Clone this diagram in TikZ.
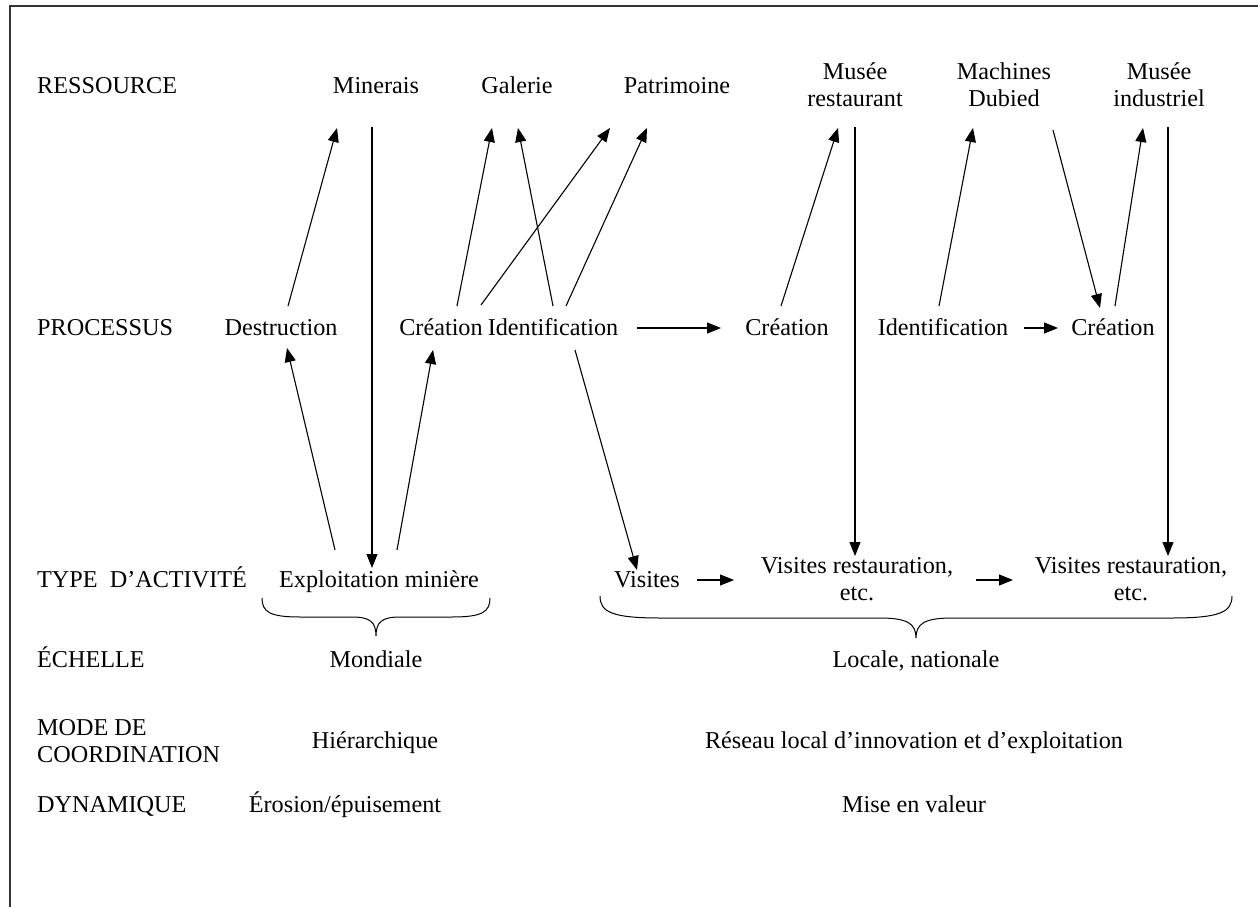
\documentclass[tikz,border=0pt]{standalone}
\usepackage{fontspec}
\setmainfont{Liberation Serif}
\usetikzlibrary{arrows.meta}
\newcommand\rowfont{\fontsize{24.2}{27}\selectfont}
\newcommand\twolines[2]{\begin{tabular}[t]{@{}c@{}}#1\\#2\end{tabular}}
\begin{document}
\begin{tikzpicture}[x=1pt,y=-1pt,
  txt/.style={font=\rowfont, inner sep=0pt, anchor=base},
  lbl/.style={txt, anchor=base west},
  link/.style={draw, line width=1.1pt, -{Triangle[length=14pt,width=11pt]}},
  brace/.style={draw, line width=1pt},
  frame/.style={draw, line width=1.5pt, black!80}]
\useasboundingbox (0,0) rectangle (1258,907);
\clip (0,0) rectangle (1258,907);
\draw[frame] (10,6) rectangle (1300,950);

% row labels
\node[lbl] (lres)  at (37,93)  {RESSOURCE};
\node[lbl] (lproc) at (37,335) {PROCESSUS};
\node[lbl] (lact)  at (37,587) {TYPE\hspace{0.5em}D’ACTIVITÉ};
\node[lbl] (lech)  at (37,667) {ÉCHELLE};
\node[lbl] (lmode) at (37,735) {\begin{tabular}[t]{@{}l@{}}MODE DE\\COORDINATION\end{tabular}};
\node[lbl] (ldyn)  at (37,812) {DYNAMIQUE};

% resources
\node[txt] (min) at (376,93)  {Minerais};
\node[txt] (gal) at (517,93)  {Galerie};
\node[txt] (pat) at (677,93)  {Patrimoine};
\node[txt] (mr)  at (855,80)  {\twolines{Musée}{restaurant}};
\node[txt] (md)  at (1004,80) {\twolines{Machines}{Dubied}};
\node[txt] (mi)  at (1159,80) {\twolines{Musée}{industriel}};

% processes
\node[txt] (des) at (281,335)  {Destruction};
\node[txt] (cr1) at (441,335)  {Création};
\node[txt] (id1) at (553,335)  {Identification};
\node[txt] (cr2) at (787,335)  {Création};
\node[txt] (id2) at (943,335)  {Identification};
\node[txt] (cr3) at (1113,335) {Création};

% activities
\node[txt] (exp) at (379,587)  {Exploitation minière};
\node[txt] (vis) at (647,587)  {Visites};
\node[txt] (vr1) at (857,573)  {\twolines{Visites restauration,}{etc.}};
\node[txt] (vr2) at (1131,573) {\twolines{Visites restauration,}{etc.}};

% scale, coordination, dynamics
\node[txt] (mon) at (376,667) {Mondiale};
\node[txt] (loc) at (916,667) {Locale, nationale};
\node[txt] (hie) at (375,748) {Hiérarchique};
\node[txt] (rsx) at (914,748) {Réseau local d’innovation et d’exploitation};
\node[txt] (ero) at (345,812) {Érosion/épuisement};
\node[txt] (mev) at (914,812) {Mise en valeur};

% mining branch
\path[link] ([shift={(7,-29)}]des.base)   -- ([shift={(-39,35)}]min.base);
\path[link] ([shift={(-44,-37)}]exp.base) -- ([shift={(6,13)}]des.base);
\path[link] ([shift={(-4,34)}]min.base)   -- ([shift={(-7,-19)}]exp.base);
\path[link] ([shift={(18,-37)}]exp.base)  -- ([shift={(-8,15)}]cr1.base);
\path[link] ([shift={(16,-29)}]cr1.base)  -- ([shift={(-25,35)}]gal.base);
\path[link] ([shift={(40,-30)}]cr1.base)  -- ([shift={(-67,35)}]pat.base);
\path[link] ([shift={(0,-29)}]id1.base)   -- ([shift={(1,35)}]gal.base);
\path[link] ([shift={(13,-29)}]id1.base)  -- ([shift={(-30,35)}]pat.base);

% heritage branch
\path[link] ([shift={(84,-7)}]id1.base)   -- ([shift={(-66,-7)}]cr2.base);
\path[link] ([shift={(22,15)}]id1.base)   -- ([shift={(-10,-17)}]vis.base);
\path[link] ([shift={(-6,-29)}]cr2.base)  -- ([shift={(-17,48)}]mr.base);
\path[link] ([shift={(0,47)}]mr.base)     -- ([shift={(-2,-17)}]vr1.base);
\path[link] ([shift={(-4,-29)}]id2.base)  -- ([shift={(-31,48)}]md.base);
\path[link] ([shift={(49,50)}]md.base)    -- ([shift={(-13,-27)}]cr3.base);
\path[link] ([shift={(2,-29)}]cr3.base)   -- ([shift={(-16,48)}]mi.base);
\path[link] ([shift={(9,47)}]mi.base)     -- ([shift={(37,-17)}]vr2.base);
\path[link] ([shift={(81,-7)}]id2.base)   -- ([shift={(-55,-7)}]cr3.base);
\path[link] ([shift={(50,-7)}]vis.base)   -- ([shift={(-123,7)}]vr1.base);
\path[link] ([shift={(119,7)}]vr1.base)   -- ([shift={(-118,7)}]vr2.base);

% braces under the activities
\draw[brace] (262,598) .. controls (262,612) and (270,617) .. (300,617)
  -- (352,617) .. controls (370,617) and (376,622) .. (376,636)
  .. controls (376,622) and (382,617) .. (400,617)
  -- (452,617) .. controls (482,617) and (490,612) .. (490,598);
\draw[brace] (600,596) .. controls (600,612) and (612,618) .. (660,618)
  -- (880,618) .. controls (908,618) and (916,624) .. (916,638)
  .. controls (916,624) and (924,618) .. (952,618)
  -- (1172,618) .. controls (1220,618) and (1232,612) .. (1232,596);
\end{tikzpicture}
\end{document}
